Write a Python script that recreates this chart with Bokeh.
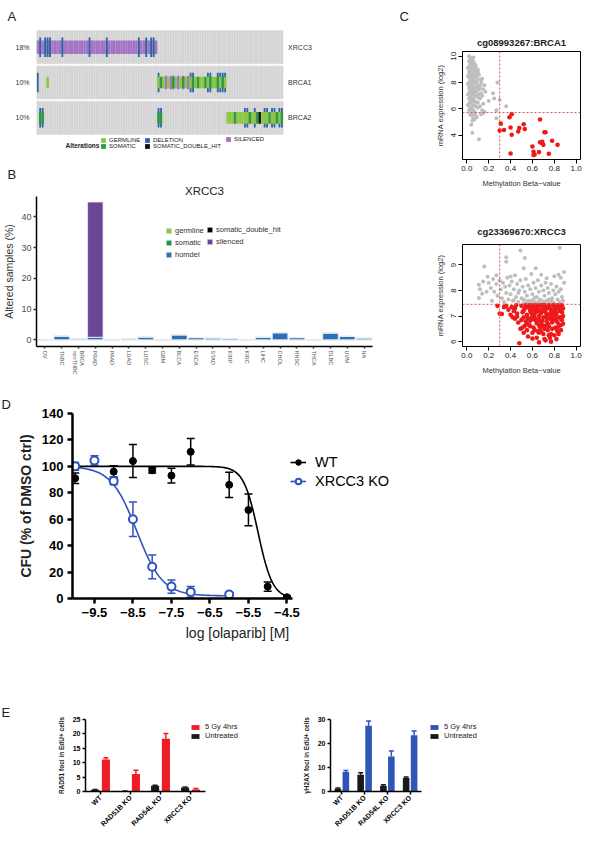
import numpy as np
from math import pi
from bokeh.plotting import figure
from bokeh.layouts import column, row
from bokeh.models import (ColumnDataSource, Range1d, FactorRange, Label, Legend, LegendItem, Title,
                          Span, Whisker, TeeHead, FixedTicker, PrintfTickFormatter)
from bokeh.embed import file_html
from bokeh.resources import INLINE

FONT = "Liberation Sans"

# ---------------- Panel A: oncoprint ----------------
ONCO_GENES = ["XRCC3", "BRCA1", "BRCA2"]
ONCO_PCT = ["18%", "10%", "10%"]
N_SAMPLES = 100
XRCC3_SILENCED = list(range(0, 49))
XRCC3_DELETION = [1, 3, 4, 5, 10, 21, 28, 41, 44, 46, 47]
BRCA1_DELETION = [0, 49, 62, 63, 69, 70, 73, 74, 75, 76]
BRCA1_SILENCED = [52, 54, 55, 57, 59, 61]
BRCA1_GERMLINE = [4, 49, 51, 53, 56, 58, 60, 62, 64, 66, 67, 69, 71, 72, 74, 76]
BRCA1_SOMATIC = [50, 55, 59, 63, 65, 68, 70, 73, 75]
BRCA2_DELETION = [1, 2, 49, 50, 84, 85, 88, 92, 93, 95, 96, 98, 99]
BRCA2_GERMLINE = [77, 78, 79, 81, 82, 83, 84, 85, 87, 88, 91, 92, 93, 95, 96, 98]
BRCA2_SOMATIC = [1, 2, 49, 50, 80, 86, 89, 94, 97, 99]
BRCA2_DOUBLE = [90]

# ---------------- Panel B: XRCC3 alterations by cancer type ----------------
B_CATS = ["OV", "TNBC", "BRCA\nnonTNBC", "PRAD", "PAAD", "LUAD", "LUSC", "GBM", "BLCA", "ESCA",
          "STAD", "KIRP", "KIRC", "LIHC", "CHOL", "HNSC", "THCA", "DLBC", "UVM", "NA"]
B_GERMLINE = [0] * 20
B_SOMATIC = [0] * 20
B_HOMDEL = [0, 1.2, 0.3, 0.8, 0, 0.3, 0.9, 0, 1.6, 0.7, 0.6, 0.4, 0, 0.8, 2.3, 0.7, 0, 2.2, 1.1, 0.6]
B_DOUBLE = [0] * 20
B_SILENCED = [0, 0, 0, 44.0, 0, 0, 0, 0, 0, 0, 0, 0, 0, 0, 0, 0, 0, 0, 0, 0]

# ---------------- Panel C: methylation vs expression ----------------
BRCA1_GRAY = [
    (0.02, 10.0), (0.03, 9.8), (0.04, 9.7), (0.02, 9.6), (0.05, 9.5), (0.06, 9.6), (0.03, 9.4), (0.04, 9.3),
    (0.07, 9.4), (0.02, 9.2), (0.05, 9.1), (0.06, 9.0), (0.03, 9.0), (0.08, 9.1), (0.04, 8.9), (0.02, 8.8),
    (0.05, 8.7), (0.07, 8.8), (0.03, 8.6), (0.06, 8.5), (0.09, 8.6), (0.04, 8.5), (0.02, 8.4), (0.05, 8.3),
    (0.08, 8.4), (0.03, 8.2), (0.06, 8.2), (0.10, 8.3), (0.04, 8.1), (0.02, 8.0), (0.07, 8.0), (0.05, 7.9),
    (0.03, 7.8), (0.09, 7.9), (0.06, 7.7), (0.04, 7.7), (0.02, 7.6), (0.08, 7.6), (0.05, 7.5), (0.03, 7.4),
    (0.07, 7.4), (0.11, 7.5), (0.04, 7.3), (0.06, 7.2), (0.02, 7.2), (0.09, 7.3), (0.05, 7.1), (0.03, 7.0),
    (0.08, 7.0), (0.04, 6.9), (0.06, 6.8), (0.02, 6.8), (0.10, 6.9), (0.05, 6.7), (0.03, 6.6), (0.07, 6.6),
    (0.04, 6.5), (0.09, 6.5), (0.02, 6.4), (0.06, 6.3), (0.05, 6.2), (0.03, 6.1), (0.08, 6.2), (0.04, 6.0),
    (0.06, 5.9), (0.02, 5.9), (0.05, 5.8), (0.07, 5.6), (0.04, 5.5), (0.06, 5.3), (0.05, 5.1), (0.04, 4.8),
    (0.05, 4.2), (0.11, 3.7), (0.13, 8.2), (0.15, 7.5), (0.14, 8.3), (0.12, 7.8), (0.13, 7.2), (0.12, 6.8),
    (0.14, 7.0), (0.16, 7.8), (0.12, 6.2), (0.15, 6.4), (0.13, 5.6), (0.15, 5.7), (0.16, 5.8), (0.09, 5.4),
    (0.10, 6.1), (0.12, 7.6), (0.17, 7.3), (0.14, 5.9), (0.25, 6.8), (0.30, 6.7), (0.27, 5.9), (0.27, 5.3),
    (0.28, 8.0), (0.36, 6.2), (0.24, 7.2), (0.20, 6.6), (0.08, 9.3), (0.09, 8.9), (0.10, 8.8), (0.07, 9.1),
    (0.06, 9.9), (0.03, 9.9), (0.05, 9.8), (0.01, 9.1), (0.01, 8.5), (0.01, 7.9), (0.01, 7.1), (0.01, 6.3),
    (0.11, 8.6), (0.10, 7.7), (0.11, 7.1), (0.10, 6.5), (0.13, 8.0), (0.07, 5.2), (0.03, 5.6), (0.08, 5.7),
    (0.09, 8.1), (0.10, 9.0),
]
BRCA1_RED = [
    (0.31, 4.89), (0.30, 4.36), (0.34, 4.41), (0.39, 5.37), (0.41, 5.61), (0.40, 4.60), (0.41, 4.05),
    (0.40, 2.63), (0.48, 4.55), (0.47, 4.29), (0.52, 4.84), (0.53, 4.48), (0.60, 3.16), (0.61, 2.75),
    (0.61, 2.51), (0.66, 2.73), (0.67, 5.20), (0.67, 3.47), (0.69, 3.40), (0.70, 3.28), (0.71, 4.24),
    (0.72, 4.24), (0.75, 2.61), (0.78, 3.59), (0.83, 3.28), (0.69, 3.52), (0.62, 2.55),
]
BRCA1_BETA_CUT, BRCA1_EXPR_CUT = 0.3, 5.73

XRCC3_GRAY = [
    (0.16, 8.94), (0.36, 9.30), (0.36, 9.13), (0.49, 9.57), (0.53, 9.27), (0.85, 9.67), (0.11, 8.23),
    (0.11, 7.71), (0.14, 7.87), (0.19, 8.54), (0.27, 8.60), (0.52, 8.87), (0.63, 8.87), (0.68, 8.62),
    (0.80, 8.56), (0.84, 8.62), (0.89, 8.72), (0.86, 8.50), (0.73, 8.48),
    (0.20, 8.30), (0.22, 8.10), (0.24, 8.45), (0.25, 7.95), (0.27, 8.25), (0.28, 7.80), (0.30, 8.40),
    (0.31, 8.05), (0.32, 7.70), (0.33, 8.30), (0.34, 7.55), (0.35, 8.15), (0.36, 7.90), (0.37, 8.50),
    (0.38, 7.65), (0.39, 8.20), (0.40, 7.85), (0.41, 8.35), (0.42, 7.60), (0.43, 8.05), (0.44, 8.60),
    (0.45, 7.75), (0.46, 8.25), (0.47, 7.55), (0.48, 8.00), (0.49, 8.40), (0.50, 7.70), (0.51, 8.15),
    (0.52, 7.50), (0.53, 7.95), (0.54, 8.45), (0.55, 7.80), (0.56, 8.20), (0.57, 7.60), (0.58, 8.05),
    (0.59, 8.65), (0.60, 7.85), (0.61, 8.30), (0.62, 7.55), (0.63, 8.10), (0.64, 7.75), (0.65, 8.40),
    (0.66, 7.95), (0.67, 7.65), (0.68, 8.20), (0.69, 7.50), (0.70, 8.00), (0.71, 7.80), (0.72, 8.30),
    (0.73, 7.60), (0.74, 8.10), (0.75, 7.90), (0.76, 7.55), (0.77, 8.25), (0.78, 7.70), (0.79, 8.00),
    (0.80, 7.50), (0.81, 7.85), (0.82, 8.15), (0.83, 7.65), (0.84, 7.95), (0.85, 7.55), (0.86, 8.05),
    (0.87, 7.75), (0.88, 7.60), (0.89, 8.30),
    (0.55, 7.58), (0.60, 7.62), (0.65, 7.53), (0.70, 7.58), (0.72, 7.52), (0.75, 7.65), (0.62, 7.72),
    (0.58, 7.52), (0.66, 7.60), (0.78, 7.57), (0.52, 7.65), (0.47, 7.90), (0.43, 7.62), (0.40, 8.55),
    (0.15, 8.35), (0.18, 7.95), (0.12, 8.05), (0.23, 7.60),
]
XRCC3_RED = [
    (0.28, 7.40), (0.30, 7.10), (0.32, 7.08), (0.34, 7.35), (0.36, 7.40), (0.38, 7.25), (0.40, 7.05),
    (0.41, 7.35), (0.43, 7.20), (0.44, 6.90), (0.45, 7.42), (0.46, 7.10), (0.47, 6.75), (0.48, 5.94),
    (0.49, 6.50), (0.71, 6.10), (0.77, 6.00),
    (0.50, 7.40), (0.51, 7.15), (0.52, 6.95), (0.53, 7.30), (0.54, 6.80), (0.55, 7.05), (0.56, 7.38),
    (0.57, 6.65), (0.58, 7.20), (0.59, 6.90), (0.60, 7.42), (0.61, 6.55), (0.62, 7.10), (0.63, 6.85),
    (0.64, 7.35), (0.65, 6.40), (0.66, 7.00), (0.67, 7.25), (0.68, 6.70), (0.69, 7.40), (0.70, 6.95),
    (0.71, 6.50), (0.72, 7.15), (0.73, 6.80), (0.74, 7.35), (0.75, 6.60), (0.76, 7.05), (0.77, 6.30),
    (0.78, 7.25), (0.79, 6.85), (0.80, 7.40), (0.81, 6.55), (0.82, 7.10), (0.83, 6.75), (0.84, 7.30),
    (0.85, 6.95), (0.86, 6.45), (0.87, 7.15), (0.88, 6.70),
    (0.50, 6.85), (0.52, 7.22), (0.54, 7.42), (0.56, 6.92), (0.58, 6.60), (0.60, 7.02), (0.62, 7.38),
    (0.64, 6.72), (0.66, 6.35), (0.68, 7.12), (0.70, 7.42), (0.72, 6.62), (0.74, 6.92), (0.76, 7.30),
    (0.78, 6.50), (0.80, 7.05), (0.82, 6.82), (0.84, 6.60), (0.86, 7.35), (0.88, 7.00),
    (0.53, 6.62), (0.55, 6.45), (0.57, 7.32), (0.59, 7.12), (0.61, 6.88), (0.63, 7.25), (0.65, 7.40),
    (0.67, 6.55), (0.69, 6.82), (0.71, 7.28), (0.73, 7.08), (0.75, 6.25), (0.77, 6.88), (0.79, 7.18),
    (0.81, 7.32), (0.83, 6.40), (0.85, 7.20), (0.87, 6.85),
    (0.51, 6.55), (0.56, 6.20), (0.60, 6.35), (0.64, 6.15), (0.66, 6.65), (0.70, 6.30), (0.74, 6.45),
    (0.76, 6.15), (0.80, 6.25), (0.84, 6.30), (0.62, 6.45), (0.68, 6.40), (0.72, 6.95), (0.78, 6.75),
    (0.82, 6.50), (0.86, 6.65),
    (0.57, 7.42), (0.63, 7.42), (0.67, 7.42), (0.71, 7.42), (0.75, 7.42), (0.79, 7.42), (0.83, 7.42),
    (0.87, 7.42), (0.59, 7.30), (0.65, 7.18), (0.73, 7.30), (0.77, 7.15), (0.81, 7.20), (0.85, 7.40),
    (0.61, 7.22), (0.69, 7.20),
    (0.55, 6.70), (0.58, 6.82), (0.62, 6.95), (0.66, 6.85), (0.70, 6.62), (0.74, 6.70), (0.78, 6.95),
    (0.82, 6.95), (0.86, 6.90), (0.88, 7.30), (0.60, 6.12), (0.66, 5.97), (0.72, 6.05), (0.82, 6.10),
    (0.52, 6.35), (0.46, 6.98), (0.44, 7.30), (0.42, 6.95),
]
XRCC3_BETA_CUT, XRCC3_EXPR_CUT = 0.3, 7.46

# ---------------- Panel D: olaparib dose response ----------------
LOG_DOSE_WT = [-10, -9, -8.5, -8, -7.5, -7, -6, -5.5, -5, -4.5]
CFU_WT = [91, 96, 104, 97, 93, 111, 86, 67, 9, 1]
SEM_WT = [4, 4.5, 12.5, 2, 5.5, 10, 9.5, 12, 3.5, 1]
LOG_DOSE_KO = [-10, -9.5, -9, -8.5, -8, -7.5, -7, -6]
CFU_KO = [100, 104.5, 89, 60, 24, 9, 5, 3]
SEM_KO = [3, 3.5, 3, 13, 9, 5, 4, 2]
FIT_WT = dict(top=100.0, bottom=0.0, logic50=-5.25, hill=2.3)
FIT_KO = dict(top=100.0, bottom=2.0, logic50=-8.4, hill=1.3)

# ---------------- Panel E: foci ----------------
E_GROUPS = ["WT", "RAD51B KO", "RAD54L KO", "XRCC3 KO"]
RAD51_IR = [11.1, 6.1, 18.3, 0.7]
RAD51_IR_ERR = [0.6, 1.3, 1.8, 0.35]
RAD51_UNT = [0.6, 0.15, 2.0, 1.4]
RAD51_UNT_ERR = [0.1, 0.05, 0.2, 0.2]
H2AX_IR = [8.1, 27.4, 14.6, 23.4]
H2AX_IR_ERR = [0.6, 2.0, 2.3, 1.8]
H2AX_UNT = [1.1, 7.0, 2.4, 5.6]
H2AX_UNT_ERR = [0.4, 0.8, 0.4, 0.4]


def base_fig(w, h, xr, yr, l, r, t, b):
    p = figure(width=w, height=h, x_range=xr, y_range=yr, output_backend="svg",
               toolbar_location=None, min_border_left=l, min_border_right=r,
               min_border_top=t, min_border_bottom=b)
    p.grid.visible = False
    p.outline_line_color = None
    p.background_fill_color = "white"
    p.border_fill_color = "white"
    p.title.text = ""
    p.title.visible = False
    return p


def add_title(p, text, size, style, align, offset, standoff, color="#222222"):
    p.add_layout(Title(text=text, text_font=FONT, text_font_size=size, text_font_style=style,
                       text_color=color, align=align, offset=offset, standoff=standoff), "above")


def lab(p, x, y, text, xo=0, yo=0, size="12px", style="normal", align="left",
        baseline="middle", color="#222222"):
    p.add_layout(Label(x=x, y=y, x_offset=xo, y_offset=yo, text=text, text_font=FONT,
                       text_font_size=size, text_font_style=style, text_align=align,
                       text_baseline=baseline, text_color=color))


def style_axis(ax, size, color="#222222", bold=False, lw=1.0, tick_out=3, tick_color="black",
               line_color="black", label_size="10px", label_bold=False, label_color="#222222",
               standoff=2, label_standoff=3):
    ax.major_label_text_font = FONT
    ax.major_label_text_font_size = size
    ax.major_label_text_color = color
    ax.major_label_text_font_style = "bold" if bold else "normal"
    ax.axis_label_text_font = FONT
    ax.axis_label_text_font_size = label_size
    ax.axis_label_text_font_style = "bold" if label_bold else "normal"
    ax.axis_label_text_color = label_color
    ax.axis_line_width = lw
    ax.axis_line_color = line_color
    ax.major_tick_line_width = lw
    ax.major_tick_line_color = tick_color
    ax.major_tick_out = tick_out
    ax.major_tick_in = 0
    ax.minor_tick_line_color = None
    ax.major_label_standoff = standoff
    ax.axis_label_standoff = label_standoff


def make_legend(items, loc, size, gw, gh, spacing, standoff=3, color="#222222"):
    L = Legend(items=[LegendItem(label=t, renderers=r) for t, r in items], location=loc)
    L.label_text_font = FONT
    L.label_text_font_size = size
    L.label_text_color = color
    L.glyph_width = gw
    L.glyph_height = gh
    L.label_height = gh
    L.label_width = 5
    L.spacing = int(spacing)
    L.padding = 0
    L.margin = 0
    L.border_line_color = None
    L.background_fill_alpha = 0
    L.label_standoff = int(standoff)
    return L


# ======================= Panel A =======================
AB_W = 392
PX_PER_SAMPLE = 2.51
ROW_PX = 35.33
A_H, A_TOP = 152, 29
A_FRAME_W = AB_W - 30 - 20
A_FRAME_H = A_H - A_TOP
pa = base_fig(AB_W, A_H, Range1d(0, A_FRAME_W / PX_PER_SAMPLE),
              Range1d(2.5 - A_FRAME_H / ROW_PX, 2.5), 30, 20, A_TOP, 0)
pa.xaxis.visible = False
GENE_Y = {g: len(ONCO_GENES) - 1 - k for k, g in enumerate(ONCO_GENES)}
style_axis(pa.yaxis[0], "7px", color="#333333", lw=1, tick_out=0, line_color=None, standoff=7)
pa.yaxis.major_tick_line_color = None
pa.yaxis.ticker = FixedTicker(ticks=list(GENE_Y.values()))
pa.yaxis.major_label_overrides = {GENE_Y[g]: pct for g, pct in zip(ONCO_GENES, ONCO_PCT)}

bg = ColumnDataSource(dict(x=[i + 0.5 for g in ONCO_GENES for i in range(N_SAMPLES)],
                           y=[GENE_Y[g] for g in ONCO_GENES for i in range(N_SAMPLES)]))
pa.rect("x", "y", width=1, height=0.94, source=bg, fill_color="#D3D3D3",
        line_color="#DEDEDE", line_width=0.5)


def cell_xy(spec):
    xs, ys = [], []
    for gene, idx in spec:
        xs += [i + 0.5 for i in idx]
        ys += [GENE_Y[gene]] * len(idx)
    return xs, ys


C_GERM, C_SOM, C_DEL, C_DBL, C_SIL = "#8DC63F", "#2E9A47", "#2F63A8", "#111111", "#A274C4"
x, y = cell_xy([("XRCC3", XRCC3_SILENCED), ("BRCA1", BRCA1_SILENCED)])
r_sil = pa.rect(x=x, y=y, width=1, height=0.38, fill_color=C_SIL, line_color=None)
x, y = cell_xy([("XRCC3", XRCC3_DELETION), ("BRCA1", BRCA1_DELETION), ("BRCA2", BRCA2_DELETION)])
r_del = pa.rect(x=x, y=y, width=0.75, height=0.55, fill_color=C_DEL, line_color=None)
x, y = cell_xy([("BRCA1", BRCA1_GERMLINE), ("BRCA2", BRCA2_GERMLINE)])
r_germ = pa.rect(x=x, y=y, width=1, height=0.33, fill_color=C_GERM, line_color=None)
x, y = cell_xy([("BRCA1", BRCA1_SOMATIC), ("BRCA2", BRCA2_SOMATIC)])
r_som = pa.rect(x=x, y=y, width=1, height=0.33, fill_color=C_SOM, line_color=None)
x, y = cell_xy([("BRCA2", BRCA2_DOUBLE)])
r_dbl = pa.rect(x=x, y=y, width=1, height=0.33, fill_color=C_DBL, line_color=None)

for g in ONCO_GENES:
    lab(pa, N_SAMPLES, GENE_Y[g], g, xo=5, size="7px", align="left", color="#333333")
add_title(pa, "A", "13px", "normal", "left", -29, 12)
lab(pa, 0, -0.5, "Alterations", xo=29, yo=-10, size="6.5px", style="bold")
pa.add_layout(make_legend([("GERMLINE", [r_germ]), ("SOMATIC", [r_som])], (64, 3), "6px", 6, 6, 0, 3))
pa.add_layout(make_legend([("DELETION", [r_del]), ("SOMATIC_DOUBLE_HIT", [r_dbl])], (108, 3), "6px", 6, 6, 0, 3))
pa.add_layout(make_legend([("SILENCED", [r_sil])], (189, 10), "6px", 6, 6, 0, 3))

# ======================= Panel B =======================
B_H = 225
pb = base_fig(AB_W, B_H, FactorRange(*B_CATS), Range1d(-2.2, 46.6), 30, 20, 44, 31)
srcB = ColumnDataSource(dict(cat=B_CATS, germline=B_GERMLINE, somatic=B_SOMATIC, homdel=B_HOMDEL,
                             somatic_double_hit=B_DOUBLE, silenced=B_SILENCED))
B_COLORS = ["#8DC63F", "#1E9448", "#2C6FB6", "#000000", "#6B4596"]
rsB = pb.vbar_stack(["germline", "somatic", "homdel", "somatic_double_hit", "silenced"], x="cat",
                    width=0.92, color=B_COLORS, line_color="#E6ECF2", line_width=0.8, source=srcB)
style_axis(pb.yaxis[0], "9px", color="#4D4D4D", lw=1.5, tick_out=3, tick_color="#333333",
           label_size="10.5px", label_color="#333333", standoff=2, label_standoff=3)
pb.yaxis.ticker = FixedTicker(ticks=[0, 10, 20, 30, 40])
pb.yaxis.axis_label = "Altered samples (%)"
style_axis(pb.xaxis[0], "5.5px", color="#555555", lw=1.5, tick_out=2, tick_color="#333333", standoff=2)
pb.xaxis.major_label_orientation = "vertical"
add_title(pb, "XRCC3", "11.5px", "normal", "center", 0, 0)
add_title(pb, "B", "13px", "normal", "left", -29, 1)
pb.add_layout(make_legend([("germline", [rsB[0]]), ("somatic", [rsB[1]]), ("homdel", [rsB[2]])],
                          (129, 87), "7.5px", 7, 7, 3, 3, "#333333"))
pb.add_layout(make_legend([("somatic_double_hit", [rsB[3]]), ("silenced", [rsB[4]])],
                          (170, 100), "7.5px", 7, 7, 3, 3, "#333333"))


# ======================= Panel C =======================
C_W = 592 - AB_W
C_LEFT, C_RIGHT = 70, 12


def scatter_panel(h, yr, gray, red, bcut, ecut, yticks, top_b, bot_b):
    p = base_fig(C_W, h, Range1d(-0.04, 1.04), Range1d(*yr), C_LEFT, C_RIGHT, top_b, bot_b)
    p.outline_line_color = "black"
    p.outline_line_width = 1
    p.scatter([a for a, b in gray], [b for a, b in gray], size=4.0, color="#BEBEBE", line_color=None)
    p.scatter([a for a, b in red], [b for a, b in red], size=4.6, color="#EE1A1A", line_color=None)
    p.add_layout(Span(location=bcut, dimension="height", line_color="#D9534F", line_dash="2 2", line_width=1))
    p.add_layout(Span(location=ecut, dimension="width", line_color="#D9534F", line_dash="2 2", line_width=1))
    for ax in (p.xaxis[0], p.yaxis[0]):
        style_axis(ax, "8px", color="#222222", lw=1, tick_out=4, line_color=None,
                   label_size="7.5px", label_color="#333333", standoff=2, label_standoff=4)
    p.xaxis.axis_label_standoff = 5
    p.xaxis.ticker = FixedTicker(ticks=[0, 0.2, 0.4, 0.6, 0.8, 1.0])
    p.xaxis.formatter = PrintfTickFormatter(format="%.1f")
    p.yaxis.ticker = FixedTicker(ticks=yticks)
    p.yaxis.major_label_orientation = "vertical"
    p.xaxis.axis_label = "Methylation Beta\u2212value"
    p.yaxis.axis_label = "mRNA expression (log2)"
    return p


pc1 = scatter_panel(190, (2.17, 10.36), BRCA1_GRAY, BRCA1_RED, BRCA1_BETA_CUT, BRCA1_EXPR_CUT,
                    [4, 6, 8, 10], 50, 30)
add_title(pc1, "cg08993267:BRCA1", "9.5px", "bold", "center", 0, 8)
add_title(pc1, "C", "13px", "normal", "left", -63, 13)
pc2 = scatter_panel(A_H + B_H - 190, (5.81, 9.8), XRCC3_GRAY, XRCC3_RED, XRCC3_BETA_CUT, XRCC3_EXPR_CUT,
                    [6, 7, 8, 9], 54, 29)
add_title(pc2, "cg23369670:XRCC3", "9.5px", "bold", "center", 0, 16)

# ======================= Panel D =======================
D_X0, D_X1, D_PX = -10.07, -4.36, 38.5
D_FRAME_W = 330
D_H = 266
pd = base_fig(592, D_H, Range1d(D_X0, D_X0 + D_FRAME_W / D_PX), Range1d(0, 140), 72, 592 - 72 - D_FRAME_W, 36, 41)
BLUE_D = "#2F52BE"


def fit(xs, f):
    return f["bottom"] + (f["top"] - f["bottom"]) / (1 + 10 ** (f["hill"] * (xs - f["logic50"])))


xs_wt = np.linspace(-10.0, -4.45, 200)
xs_ko = np.linspace(-10.0, -6.0, 160)
r_ko_line = pd.line(xs_ko, fit(xs_ko, FIT_KO), line_color=BLUE_D, line_width=1.6)
r_wt_line = pd.line(xs_wt, fit(xs_wt, FIT_WT), line_color="black", line_width=1.6)
srcWT = ColumnDataSource(dict(x=LOG_DOSE_WT, y=CFU_WT,
                              lo=[v - s for v, s in zip(CFU_WT, SEM_WT)],
                              hi=[v + s for v, s in zip(CFU_WT, SEM_WT)]))
srcKO = ColumnDataSource(dict(x=LOG_DOSE_KO, y=CFU_KO,
                              lo=[v - s for v, s in zip(CFU_KO, SEM_KO)],
                              hi=[v + s for v, s in zip(CFU_KO, SEM_KO)]))
for src, col in ((srcKO, BLUE_D), (srcWT, "black")):
    pd.add_layout(Whisker(source=src, base="x", lower="lo", upper="hi", line_color=col, line_width=1.5,
                          upper_head=TeeHead(size=8, line_color=col, line_width=1.5),
                          lower_head=TeeHead(size=8, line_color=col, line_width=1.5)))
r_ko_pts = pd.scatter("x", "y", source=srcKO, size=8, marker="circle", fill_color="white",
                      line_color=BLUE_D, line_width=2)
r_wt_pts = pd.scatter("x", "y", source=srcWT, size=7, marker="circle", fill_color="black",
                      line_color="black")
for ax in (pd.xaxis[0], pd.yaxis[0]):
    style_axis(ax, "13px", color="black", bold=True, lw=2.5, tick_out=5,
               label_size="14px", standoff=4, label_standoff=5)
pd.xaxis.bounds = (D_X0, D_X1)
pd.yaxis.ticker = FixedTicker(ticks=[0, 20, 40, 60, 80, 100, 120, 140])
pd.xaxis.ticker = FixedTicker(ticks=[-9.5, -8.5, -7.5, -6.5, -5.5, -4.5])
pd.yaxis.axis_label = "CFU (% of DMSO ctrl)"
pd.yaxis.axis_label_text_font_style = "bold"
pd.xaxis.axis_label = "log [olaparib] [M]"
pd.xaxis.axis_label_text_font_style = "normal"
pd.add_layout(make_legend([("WT", [r_wt_line, r_wt_pts]), ("XRCC3 KO", [r_ko_line, r_ko_pts])],
                          (218, 109), "14.5px", 16, 14, 3, 9, "black"))
add_title(pd, "D", "13px", "normal", "left", -71, 4)

# ======================= Panel E =======================
E_POS = [i + 0.5 for i in range(len(E_GROUPS))]
E_H = 833 - A_H - B_H - D_H
E_TOP, E_BOTTOM = 76, 36


def foci_panel(w, ymax, yticks, ir, ir_err, unt, unt_err, ir_col, ylabel, l, cat_px, off, bw, legloc):
    frame_w = 160
    p = base_fig(w, E_H, Range1d(0, frame_w / cat_px), Range1d(0, ymax), l, w - l - frame_w, E_TOP, E_BOTTOM)
    src = ColumnDataSource(dict(xu=[v - off for v in E_POS], xi=[v + off for v in E_POS], ir=ir, unt=unt,
                                ir_hi=[v + e for v, e in zip(ir, ir_err)],
                                unt_hi=[v + e for v, e in zip(unt, unt_err)]))
    r_unt = p.vbar(x="xu", top="unt", width=bw, source=src, fill_color="#1A1A1A", line_color=None)
    r_ir = p.vbar(x="xi", top="ir", width=bw, source=src, fill_color=ir_col, line_color=None)
    for base, lo, hi, col in (("xu", "unt", "unt_hi", "#1A1A1A"), ("xi", "ir", "ir_hi", ir_col)):
        p.add_layout(Whisker(source=src, base=base, lower=lo, upper=hi,
                             line_color=col, line_width=1.5, lower_head=None,
                             upper_head=TeeHead(size=5, line_color=col, line_width=1.5)))
    for ax in (p.xaxis[0], p.yaxis[0]):
        style_axis(ax, "7px", color="black", bold=True, lw=1.5, tick_out=3,
                   label_size="6.5px", label_bold=True, standoff=2, label_standoff=5)
    p.yaxis.ticker = FixedTicker(ticks=yticks)
    p.yaxis.axis_label = ylabel
    p.xaxis.ticker = FixedTicker(ticks=E_POS)
    p.xaxis.major_label_overrides = dict(zip(E_POS, E_GROUPS))
    p.xaxis.bounds = (0, len(E_GROUPS))
    p.xaxis.major_label_orientation = pi / 4
    p.add_layout(make_legend([("5 Gy 4hrs", [r_ir]), ("Untreated", [r_unt])], legloc,
                             "7.5px", 10, 6, 0, 5, "#222222"))
    return p


pe1 = foci_panel(292, 25, [0, 5, 10, 15, 20, 25], RAD51_IR, RAD51_IR_ERR, RAD51_UNT, RAD51_UNT_ERR,
                 "#EE1C25", "RAD51 foci in EdU+ cells", 85, 30.0, 0.18, 0.27, (105, 51))
add_title(pe1, "E", "13px", "normal", "left", -84, 0)
pe2 = foci_panel(300, 30, [0, 10, 20, 30], H2AX_IR, H2AX_IR_ERR, H2AX_UNT, H2AX_UNT_ERR,
                 "#2F55B8", "\u03b3H2AX foci in EdU+ cells", 38, 22.75, 0.175, 0.29, (99, 51))

layout = column(row(column(pa, pb), column(pc1, pc2)), pd, row(pe1, pe2))
open("out.html", "w").write(file_html(layout, INLINE, title="figure"))
